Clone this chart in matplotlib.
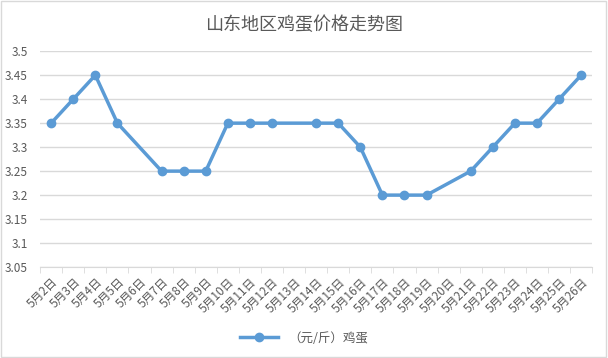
import matplotlib.pyplot as plt
import numpy as np
from matplotlib.patches import Rectangle

plt.rcParams['font.family'] = ['Noto Sans CJK SC', 'DejaVu Sans']

# dados
datas = ["5月%d日" % d for d in range(2, 27)]
precos = [3.35, 3.4, 3.45, 3.35, None, 3.25, 3.25, 3.25, 3.35, 3.35, 3.35, None,
          3.35, 3.35, 3.3, 3.2, 3.2, 3.2, None, 3.25, 3.3, 3.35, 3.35, 3.4, 3.45]
yticks = [3.05, 3.1, 3.15, 3.2, 3.25, 3.3, 3.35, 3.4, 3.45, 3.5]

cinza = "#595959"
azul = "#5B9BD5"

fig = plt.figure(figsize=(6.08, 3.58), dpi=100)
fig.patches.append(Rectangle((0.002, 0.003), 0.995, 0.993, transform=fig.transFigure,
                             fill=False, edgecolor="#d9d9d9", linewidth=1))
ax = fig.add_axes([0.066, 0.254, 0.908, 0.603])

xs = [i for i, v in enumerate(precos) if v is not None]
ys = [v for v in precos if v is not None]
ax.plot(xs, ys, color=azul, linewidth=2.5, marker="o", markersize=6, label="（元/斤）鸡蛋")

ax.set_xlim(-0.5, len(datas) - 0.5)
ax.set_ylim(3.05, 3.5)
ax.set_yticks(yticks)
ax.set_yticklabels([("%g" % v) for v in yticks], color=cinza, fontsize=8.5)
ax.set_xticks(range(len(datas)))
ax.set_xticklabels(datas, rotation=45, ha="right", rotation_mode="anchor", color=cinza, fontsize=8.5)
ax.set_xticks(np.arange(-0.5, len(datas), 1), minor=True)
ax.tick_params(axis="x", which="major", length=0, pad=6)
ax.tick_params(axis="x", which="minor", length=4, color="#d9d9d9")
ax.tick_params(axis="y", length=0, pad=9)

ax.grid(axis="y", color="#d9d9d9", linewidth=1)
ax.set_axisbelow(True)
for s in ["top", "right", "left"]:
    ax.spines[s].set_visible(False)
ax.spines["bottom"].set_color("#d9d9d9")

fig.text(0.5, 0.93, "山东地区鸡蛋价格走势图", ha="center", va="center", fontsize=13, color=cinza)
fig.legend(loc="center", bbox_to_anchor=(0.5, 0.055), frameon=False, fontsize=9,
           labelcolor=cinza, handlelength=3)

plt.savefig("out.png", dpi=100)
